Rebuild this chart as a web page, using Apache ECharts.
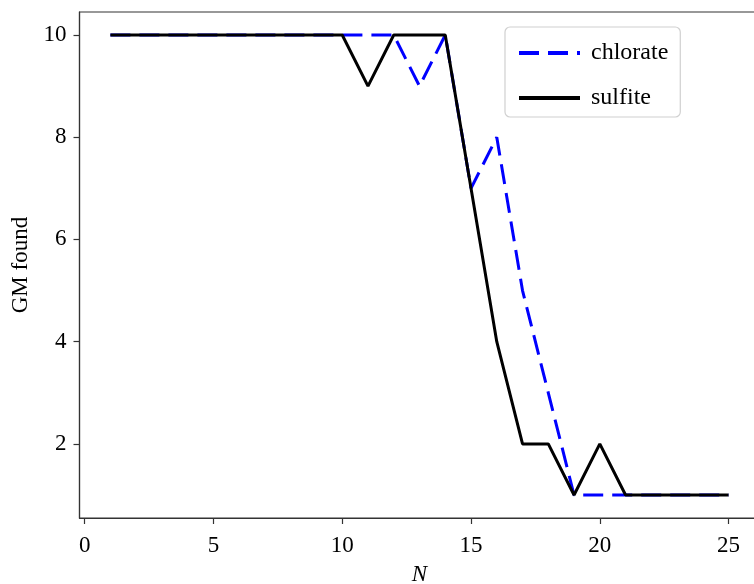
<!DOCTYPE html>
<html>
<head>
<meta charset="utf-8">
<script src="https://cdn.jsdelivr.net/npm/echarts@6/dist/echarts.min.js"></script>
<style>html,body{margin:0;padding:0;background:#fff;}#c{width:754px;height:584px;}</style>
</head>
<body>
<div id="c"></div>
<script>
var N = [1,2,3,4,5,6,7,8,9,10,11,12,13,14,15,16,17,18,19,20,21,22,23,24,25];
var chlorate = [10,10,10,10,10,10,10,10,10,10,10,10,9,10,7,8,5,3,1,1,1,1,1,1,1];
var sulfite  = [10,10,10,10,10,10,10,10,10,10,9,10,10,10,7,4,2,2,1,2,1,1,1,1,1];
var xTicks = [0,5,10,15,20,25];
var yTicks = [2,4,6,8,10];

var FONT = 'Liberation Serif';
var FS = 23;
function pairs(xs, ys){ return xs.map(function(x,i){ return [x, ys[i]]; }); }

var chart = echarts.init(document.getElementById('c'), null, {renderer:'canvas'});
chart.setOption({
  animation: false,
  backgroundColor: '#fff',
  grid: {left: 79.5, top: 12, width: 680, bottom: 66, containLabel: false, outerBoundsMode: 'none',
         show: true, borderColor: '#333', borderWidth: 1.2, backgroundColor: 'transparent'},
  legend: {
    left: 505, top: 27,
    orient: 'vertical',
    padding: [14, 12, 7, 12],
    itemGap: 21,
    itemWidth: 61, itemHeight: 14,
    itemTextGap: 12,
    borderColor: '#d0d0d0', borderWidth: 1.2, borderRadius: 5,
    backgroundColor: '#fff',
    itemStyle: {opacity: 0},
    lineStyle: {width: 4},
    textStyle: {fontFamily: FONT, fontSize: 24, color: '#000', lineHeight: 24, padding: [0, 0, 0, 6]},
    data: ['chlorate', 'sulfite']
  },
  xAxis: {
    type: 'value', min: -0.2, max: 26.2,
    name: 'N', nameLocation: 'middle', nameGap: 45,
    nameTextStyle: {fontFamily: FONT, fontSize: FS, fontStyle: 'italic', color: '#000'},
    axisLine: {show: true, onZero: false, lineStyle: {color: '#333', width: 1.2}},
    axisTick: {show: true, length: 6, inside: false, customValues: xTicks, lineStyle: {color: '#333', width: 1.2}},
    axisLabel: {customValues: xTicks, fontFamily: FONT, fontSize: FS, color: '#000', margin: 16},
    splitLine: {show: false}
  },
  yAxis: {
    type: 'value', min: 0.55, max: 10.45,
    name: 'GM found', nameLocation: 'middle', nameGap: 44, nameRotate: 90,
    nameTextStyle: {fontFamily: FONT, fontSize: FS, color: '#000'},
    axisLine: {show: true, onZero: false, lineStyle: {color: '#333', width: 1.2}},
    axisTick: {show: true, length: 6, inside: false, customValues: yTicks, lineStyle: {color: '#333', width: 1.2}},
    axisLabel: {customValues: yTicks, fontFamily: FONT, fontSize: FS, color: '#000', margin: 13},
    splitLine: {show: false}
  },
  series: [
    {name: 'chlorate', type: 'line', data: pairs(N, chlorate), showSymbol: false, symbol: 'none',
     lineStyle: {color: '#0000ff', width: 3, type: [20, 9]}, itemStyle: {color: '#0000ff'}, z: 2},
    {name: 'sulfite', type: 'line', data: pairs(N, sulfite), showSymbol: false, symbol: 'none',
     lineStyle: {color: '#000', width: 3, type: 'solid'}, itemStyle: {color: '#000'}, z: 3}
  ]
});
</script>
</body>
</html>
